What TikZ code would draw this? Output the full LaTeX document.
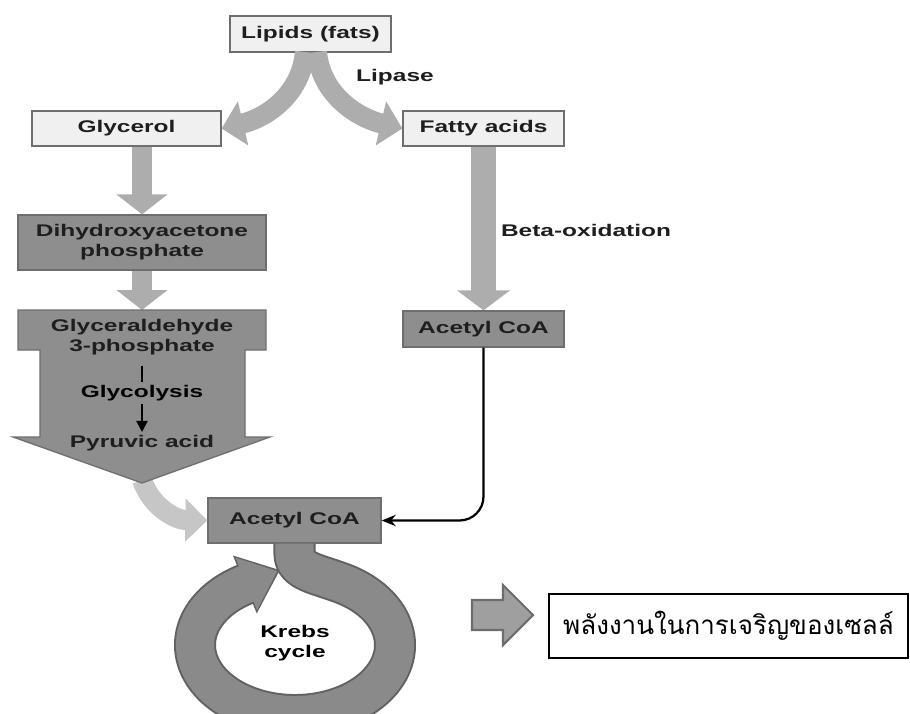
\documentclass[tikz,border=0pt]{standalone}
\usepackage{fontspec}
\usepackage{xcolor}
\usetikzlibrary{positioning,calc,arrows.meta}
\newfontfamily\labfont{Liberation Sans}[FakeStretch=1.45]
\newfontfamily\thaifont[Script=Thai]{Loma}
\definecolor{boxlight}{HTML}{F0F0F0}
\definecolor{boxdark}{HTML}{8E8E8E}
\definecolor{boxline}{HTML}{6E6E6E}
\definecolor{flowgray}{HTML}{ADADAD}
\definecolor{flowpale}{HTML}{C6C6C6}
\definecolor{ringgray}{HTML}{8A8A8A}
\definecolor{ringline}{HTML}{626262}
\definecolor{inkgray}{HTML}{1E1E1E}
\tikzset{
    lbl/.style={text=inkgray, inner sep=2pt, align=center,
        font=\labfont\bfseries\fontsize{12}{14.2}\selectfont},
    lightbox/.style={lbl, draw=boxline, line width=0.9pt, fill=boxlight, inner sep=0pt},
    darkbox/.style={lightbox, fill=boxdark},
    flow/.style={draw=flowgray, line width=0.5cm, -{Triangle[width=1.1cm,length=0.55cm]}},
}

\begin{document}
\begin{tikzpicture}[x=0.025cm, y=-0.025cm]
    \useasboundingbox (0,0) rectangle (910,713);

    % boxes
    \node[lightbox, minimum width=4.025cm, minimum height=0.9cm] (lip) at (310.5,34) {Lipids (fats)};
    \node[lightbox, minimum width=4.725cm, minimum height=0.875cm] (gly) at (126.5,128.5) {Glycerol};
    \node[lightbox, minimum width=4.025cm, minimum height=0.875cm] (fat) at (483.5,128.5) {Fatty acids};
    \node[darkbox, minimum width=6.2cm, minimum height=1.375cm] (dhap) at (142,242.5) {Dihydroxyacetone\\phosphate};
    \node[darkbox, minimum width=4.025cm, minimum height=0.9cm] (acr) at (483.5,329) {Acetyl CoA};
    \node[darkbox, minimum width=4.325cm, minimum height=1.125cm] (acl) at (294.5,520.5) {Acetyl CoA};
    \node[lbl] (lipase) at (395,77) {Lipase};
    \node[lbl] (beta) at (586,230) {Beta-oxidation};

    % lipase split
    \draw[flow] (305,52) .. controls (301,95) and (266,118) .. (gly.east);
    \draw[flow] (317,52) .. controls (321,95) and (358,118) .. (fat.west);

    % glycerol side
    \draw[flow, -{Triangle[width=1.25cm,length=0.5cm]}] (dhap.north |- gly.south) -- (dhap.north);
    \coordinate (g3ptop) at (142,310);
    \draw[flow, -{Triangle[width=1.25cm,length=0.5cm]}] (dhap.south) -- (g3ptop);

    % pyruvic acid to acetyl CoA
    \coordinate (pyrtip) at (142,480);
    \draw[flow, draw=flowpale, -{Triangle[width=1.05cm,length=0.55cm]}] (pyrtip) .. controls (152,508) and (176,520) .. (acl.west);

    % glycolysis block
    \draw[draw=boxline, line width=0.9pt, fill=boxdark] (18,310) -- (266,310) -- (266,350) -- (245,350) -- (245,437)
        -- (270,437) -- (142,483) -- (13,437) -- (40,437) -- (40,350) -- (18,350) -- cycle;
    \node[lbl] (g3p) at (142,337) {Glyceraldehyde\\3-phosphate};
    \node[lbl, text=black] (glyc) at (142,393) {Glycolysis};
    \node[lbl] (pyr) at (142,443) {Pyruvic acid};
    \draw[line width=1.8pt, shorten <=0.2cm] (g3p) -- (glyc);
    \draw[line width=1.5pt, -{Triangle[width=8pt,length=8pt]}] (glyc) -- (pyr);

    % beta-oxidation
    \draw[flow, line width=0.625cm, -{Triangle[width=1.3cm,length=0.5cm]}] (fat.south) -- (acr.north);
    \draw[line width=1.6pt, rounded corners=0.6cm, -{Stealth[length=10pt,width=8pt]}] (acr.south) |- (acl.east);

    % Krebs cycle ring
    \coordinate (kend) at (280,570);
    \draw[ringline, line width=1.05cm, -{Triangle[width=1.5cm,length=0.95cm]}] (acl.south) -- ++(0,10)
        .. controls (294.5,572) and (319,574) .. (345,584.4)
        arc[start angle=-60, end angle=240, x radius=100, y radius=70] -- (kend);
    \draw[ringgray, line width=0.95cm, shorten >=0.07cm, -{Triangle[width=1.36cm,length=0.84cm]}] (acl.south) -- ++(0,10)
        .. controls (294.5,572) and (319,574) .. (345,584.4)
        arc[start angle=-60, end angle=240, x radius=100, y radius=70] -- (kend);
    \node[lbl, text=black] (krebs) at (295,643) {Krebs\\cycle};

    % energy
    \node[draw=black, line width=1pt, minimum width=8.975cm, minimum height=1.6cm,
        font=\thaifont\fontsize{18.5}{20}\selectfont] (energy) at (728.5,626) {พลังงานในการเจริญของเซลล์};
    \draw[draw=gray!85!black, line width=1.5pt, fill=gray!75] (472,600) -- (503,600) -- (503,585) -- (533,615)
        -- (503,645) -- (503,630) -- (472,630) -- cycle;
\end{tikzpicture}
\end{document}
